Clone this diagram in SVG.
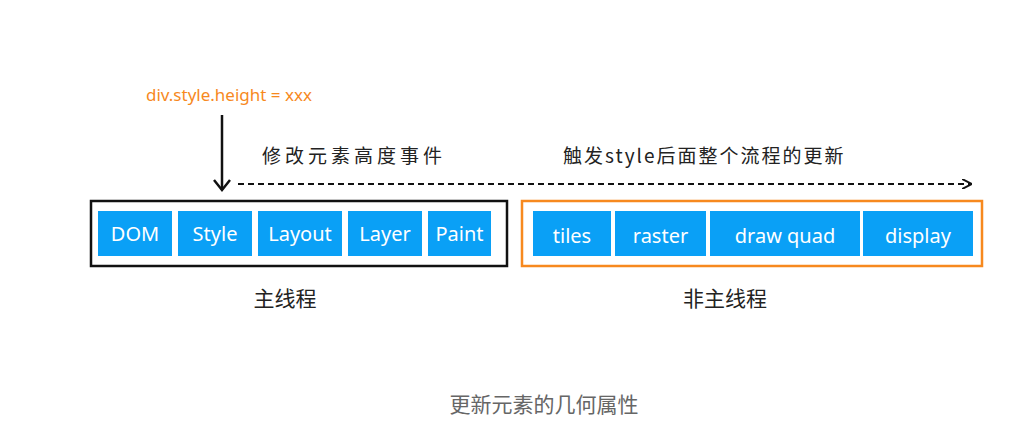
<svg xmlns="http://www.w3.org/2000/svg" width="1027" height="432" viewBox="0 0 1027 432">
<style>
.b{fill:#0aa0f6}
.t{font-family:"Noto Sans","Noto Sans CJK SC",sans-serif;font-size:20px;fill:#fff;text-anchor:middle}
.c{font-family:"Noto Sans CJK SC",sans-serif;fill:#222}
</style>
<defs><marker id="ah" viewBox="0 0 10 10" refX="9" refY="5" markerWidth="10" markerHeight="10" markerUnits="userSpaceOnUse" orient="auto"><path d="M0,0 L10,5 L0,10" fill="none" stroke="#111" stroke-width="2"/></marker>
<marker id="ah2" viewBox="0 0 20 20" refX="10" refY="18" markerWidth="20" markerHeight="20" markerUnits="userSpaceOnUse" orient="0"><path d="M2,8 L10,18 L18,8" fill="none" stroke="#111" stroke-width="2.5"/></marker></defs>
<rect width="1027" height="432" fill="#fff"/>
<text x="146" y="101" font-family="Noto Sans,sans-serif" font-size="17" fill="#f7891e">div.style.height = xxx</text>
<g id="connectors">
<line x1="222" y1="115" x2="222" y2="190" stroke="#111" stroke-width="2.5" marker-end="url(#ah2)"/>
<line x1="238" y1="184" x2="971" y2="184" stroke="#111" stroke-width="2" stroke-dasharray="6,4" marker-end="url(#ah)"/>
</g>
<text class="c" x="262" y="163" font-size="19" letter-spacing="4">修改元素高度事件</text>
<text class="c" x="563" y="163" font-size="19" letter-spacing="2">触发style后面整个流程的更新</text>
<g id="main"><rect x="91" y="201" width="416" height="65" fill="none" stroke="#111" stroke-width="2.5"/></g>
<g id="nonmain"><rect x="522" y="201" width="460" height="65" fill="none" stroke="#f7891e" stroke-width="2.5"/></g>
<g id="dom"><rect class="b" x="98" y="211" width="74" height="45"/><text class="t" x="135" y="241">DOM</text></g>
<g id="style"><rect class="b" x="178" y="211" width="74" height="45"/><text class="t" x="215" y="241">Style</text></g>
<g id="layout"><rect class="b" x="258" y="211" width="84" height="45"/><text class="t" x="300" y="241">Layout</text></g>
<g id="layer"><rect class="b" x="348" y="211" width="74" height="45"/><text class="t" x="385" y="241">Layer</text></g>
<g id="paint"><rect class="b" x="428" y="211" width="63" height="45"/><text class="t" x="459.500" y="241">Paint</text></g>
<g id="tiles"><rect class="b" x="533" y="211" width="78" height="45"/><text class="t" x="572" y="243" font-size="23">tiles</text></g>
<g id="raster"><rect class="b" x="615" y="211" width="91" height="45"/><text class="t" x="660.500" y="243" font-size="23">raster</text></g>
<g id="drawquad"><rect class="b" x="710" y="211" width="150" height="45"/><text class="t" x="785" y="243" font-size="23">draw quad</text></g>
<g id="display"><rect class="b" x="863" y="211" width="110" height="45"/><text class="t" x="918" y="243" font-size="23">display</text></g>
<text class="c" x="285" y="306" font-size="21" text-anchor="middle">主线程</text>
<text class="c" x="725" y="306" font-size="21" text-anchor="middle">非主线程</text>
<text x="544" y="412" font-family="Noto Sans CJK SC,sans-serif" font-size="21" fill="#666" text-anchor="middle">更新元素的几何属性</text>
</svg>
